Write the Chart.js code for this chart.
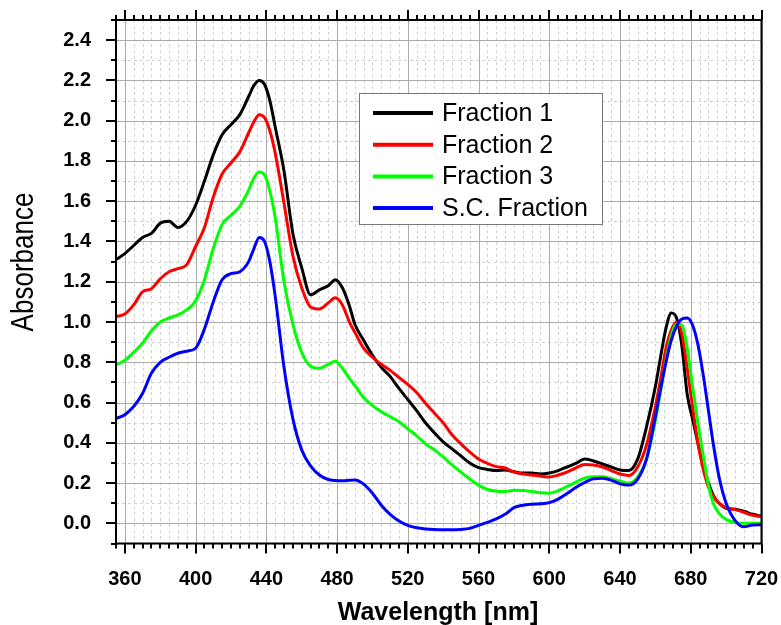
<!DOCTYPE html>
<html>
<head>
<meta charset="utf-8">
<script src="https://cdn.jsdelivr.net/npm/chart.js@4.4.0/dist/chart.umd.min.js"></script>
<style>
  html, body { margin: 0; padding: 0; background: #fff; }
  #wrap { width: 781px; height: 625px; }
</style>
</head>
<body>
<div id="wrap"><canvas id="chart" width="781" height="625"></canvas></div>
<script>
// wavelengths (nm) shared by all four spectra
const wavelengths = [
  355, 360, 365, 370, 375, 380, 385, 390, 395, 400,
  405, 410, 415, 420, 425, 430, 433, 436, 439, 442,
  445, 450, 455, 460, 465, 470, 475, 479, 483, 487,
  490, 495, 500, 505, 510, 515, 520, 525, 530, 535,
  540, 545, 550, 555, 560, 565, 570, 575, 580, 585,
  590, 595, 600, 605, 610, 615, 620, 625, 630, 635,
  640, 645, 650, 655, 660, 663, 666, 669, 672, 675,
  678, 681, 684, 687, 690, 693, 696, 700, 705, 710,
  715, 720
];

const fraction1 = [
  1.31, 1.34, 1.38, 1.42, 1.44, 1.49, 1.50, 1.47, 1.50, 1.58,
  1.70, 1.83, 1.93, 1.98, 2.03, 2.12, 2.175, 2.20, 2.18, 2.10,
  1.97, 1.75, 1.44, 1.27, 1.135, 1.16, 1.18, 1.21, 1.17, 1.08,
  0.99, 0.91, 0.835, 0.775, 0.73, 0.67, 0.615, 0.56, 0.50, 0.45,
  0.405, 0.37, 0.335, 0.30, 0.277, 0.268, 0.262, 0.265, 0.257, 0.25,
  0.25, 0.245, 0.25, 0.262, 0.28, 0.298, 0.32, 0.31, 0.295, 0.28,
  0.265, 0.262, 0.32, 0.48, 0.68, 0.83, 0.97, 1.045, 1.02, 0.88,
  0.64, 0.52, 0.40, 0.29, 0.20, 0.135, 0.10, 0.075, 0.07, 0.06,
  0.045, 0.035
];

const fraction2 = [
  1.026, 1.04, 1.085, 1.15, 1.165, 1.215, 1.25, 1.265, 1.285, 1.375,
  1.47, 1.62, 1.735, 1.79, 1.845, 1.94, 1.995, 2.03, 2.015, 1.95,
  1.84, 1.59, 1.33, 1.17, 1.075, 1.065, 1.095, 1.12, 1.085, 1.00,
  0.95, 0.87, 0.825, 0.79, 0.76, 0.725, 0.69, 0.65, 0.597, 0.548,
  0.50, 0.44, 0.395, 0.355, 0.32, 0.298, 0.282, 0.275, 0.255, 0.245,
  0.24, 0.235, 0.23, 0.24, 0.255, 0.275, 0.292, 0.29, 0.28, 0.262,
  0.245, 0.238, 0.28, 0.39, 0.58, 0.72, 0.87, 0.96, 1.00, 0.94,
  0.77, 0.58, 0.40, 0.27, 0.18, 0.13, 0.10, 0.078, 0.068, 0.055,
  0.04, 0.034
];

const fraction3 = [
  0.787, 0.81, 0.85, 0.895, 0.955, 1.00, 1.02, 1.035, 1.06, 1.105,
  1.21, 1.365, 1.485, 1.53, 1.575, 1.655, 1.715, 1.745, 1.73, 1.65,
  1.52, 1.20, 0.99, 0.85, 0.78, 0.77, 0.79, 0.805, 0.77, 0.72,
  0.685, 0.625, 0.585, 0.555, 0.53, 0.505, 0.47, 0.435, 0.395, 0.365,
  0.33, 0.29, 0.255, 0.22, 0.19, 0.168, 0.16, 0.158, 0.165, 0.163,
  0.158, 0.152, 0.15, 0.162, 0.183, 0.205, 0.225, 0.232, 0.232, 0.222,
  0.21, 0.20, 0.23, 0.32, 0.51, 0.66, 0.81, 0.935, 0.99, 0.985,
  0.87, 0.68, 0.50, 0.34, 0.19, 0.095, 0.05, 0.02, 0.005, 0.0,
  0.0, 0.0
];

const scFraction = [
  0.52, 0.54, 0.58, 0.645, 0.745, 0.80, 0.825, 0.845, 0.855, 0.87,
  0.965, 1.10, 1.21, 1.24, 1.25, 1.30, 1.365, 1.42, 1.40, 1.30,
  1.13, 0.775, 0.52, 0.365, 0.285, 0.24, 0.218, 0.213, 0.212, 0.214,
  0.215, 0.195, 0.15, 0.09, 0.045, 0.012, -0.01, -0.022, -0.028, -0.031,
  -0.032, -0.032, -0.03, -0.025, -0.01, 0.005, 0.022, 0.045, 0.078, 0.09,
  0.095, 0.097, 0.103, 0.12, 0.148, 0.178, 0.203, 0.222, 0.224, 0.215,
  0.196, 0.19, 0.22, 0.32, 0.53, 0.67, 0.80, 0.91, 0.98, 1.015,
  1.02, 0.985, 0.89, 0.74, 0.56, 0.38, 0.23, 0.10, 0.015, -0.017,
  -0.008, -0.007
];

const seriesNames = ['Fraction 1', 'Fraction 2', 'Fraction 3', 'S.C. Fraction'];
const seriesColors = ['#000000', '#ff0000', '#00ff00', '#0000ff'];
const xTickLabels = [360, 400, 440, 480, 520, 560, 600, 640, 680, 720];
const yTickLabels = [0.0, 0.2, 0.4, 0.6, 0.8, 1.0, 1.2, 1.4, 1.6, 1.8, 2.0, 2.2, 2.4];

const FONT = '"Liberation Sans", Arial, sans-serif';

function toPoints(values) {
  return wavelengths.map((w, i) => ({ x: w, y: values[i] }));
}

// keep the plot frame fixed: no extra room for overhanging tick labels
function noLabelPadding(s) {
  s.paddingLeft = 0;
  s.paddingRight = 0;
  s.paddingTop = 0;
  s.paddingBottom = 0;
}

// grid, frame, ticks, legend and axis titles drawn like the Origin plot
const originFrame = {
  id: 'originFrame',
  beforeDatasetsDraw(chart) {
    const { ctx, chartArea: a, scales: { x, y } } = chart;
    ctx.save();
    ctx.lineWidth = 1;
    // minor dashed grid
    ctx.strokeStyle = '#d2d2d2';
    ctx.setLineDash([3, 3]);
    ctx.beginPath();
    for (let w = 355; w <= 720; w += 5) {
      if ((w - 360) % 40 === 0) continue;
      const px = Math.round(x.getPixelForValue(w)) + 0.5;
      ctx.moveTo(px, a.top); ctx.lineTo(px, a.bottom);
    }
    for (let k = -1; k <= 25; k += 2) {
      const py = Math.round(y.getPixelForValue(k / 10)) + 0.5;
      ctx.moveTo(a.left, py); ctx.lineTo(a.right, py);
    }
    ctx.stroke();
    // major solid grid
    ctx.setLineDash([]);
    ctx.strokeStyle = '#ababab';
    ctx.beginPath();
    xTickLabels.forEach(w => {
      const px = Math.round(x.getPixelForValue(w)) + 0.5;
      ctx.moveTo(px, a.top); ctx.lineTo(px, a.bottom);
    });
    yTickLabels.forEach(v => {
      const py = Math.round(y.getPixelForValue(v)) + 0.5;
      ctx.moveTo(a.left, py); ctx.lineTo(a.right, py);
    });
    ctx.stroke();
    ctx.restore();
  },
  afterDatasetsDraw(chart) {
    const { ctx, chartArea: a, scales: { x, y } } = chart;
    ctx.save();
    ctx.strokeStyle = '#000';
    ctx.lineWidth = 2;
    ctx.strokeRect(a.left, a.top, a.right - a.left, a.bottom - a.top);

    // tick marks: bottom and top x, left y
    ctx.beginPath();
    for (let w = 355; w <= 720; w += 5) {
      const len = (w - 360) % 40 === 0 ? 10 : 5;
      const px = Math.round(x.getPixelForValue(w));
      ctx.moveTo(px, a.bottom); ctx.lineTo(px, a.bottom + len);
      ctx.moveTo(px, a.top); ctx.lineTo(px, a.top - len);
    }
    for (let k = -1; k <= 25; k++) {
      const len = k % 2 === 0 ? 10 : 5;
      const py = Math.round(y.getPixelForValue(k / 10));
      ctx.moveTo(a.left, py); ctx.lineTo(a.left - len, py);
    }
    ctx.stroke();

    // legend box
    const lx = 359, ly = 93, lw = 243, lh = 131;
    ctx.fillStyle = '#fff';
    ctx.fillRect(lx, ly, lw, lh);
    ctx.lineWidth = 1;
    ctx.strokeStyle = '#777';
    ctx.strokeRect(lx + 0.5, ly + 0.5, lw, lh);
    ctx.font = '25px ' + FONT;
    ctx.textBaseline = 'middle';
    ctx.textAlign = 'left';
    chart.data.datasets.forEach((ds, i) => {
      const ry = 113 + i * 31.7;
      ctx.strokeStyle = ds.borderColor;
      ctx.lineWidth = 4;
      ctx.beginPath();
      ctx.moveTo(373, ry); ctx.lineTo(433, ry);
      ctx.stroke();
      ctx.fillStyle = '#000';
      ctx.fillText(ds.label, 442, ry + 1);
    });

    // axis titles
    ctx.fillStyle = '#000';
    ctx.save();
    ctx.translate(33, 262);
    ctx.rotate(-Math.PI / 2);
    ctx.scale(1, 1.22);
    ctx.font = '26px ' + FONT;
    ctx.textAlign = 'center';
    ctx.textBaseline = 'alphabetic';
    ctx.fillText('Absorbance', 0, 0);
    ctx.restore();

    ctx.font = 'bold 25px ' + FONT;
    ctx.textAlign = 'center';
    ctx.textBaseline = 'alphabetic';
    ctx.fillText('Wavelength [nm]', 438, 620);
    ctx.restore();
  }
};

new Chart(document.getElementById('chart'), {
  type: 'line',
  data: {
    datasets: [fraction1, fraction2, fraction3, scFraction].map((vals, i) => ({
      label: seriesNames[i],
      data: toPoints(vals),
      borderColor: seriesColors[i],
      borderWidth: 3,
      pointRadius: 0,
      fill: false,
      cubicInterpolationMode: 'monotone',
      order: 4 - i
    }))
  },
  options: {
    responsive: false,
    animation: false,
    layout: { padding: { left: 0, top: 20, right: 19.5, bottom: 0 } },
    plugins: { legend: { display: false }, tooltip: { enabled: false } },
    scales: {
      x: {
        type: 'linear',
        min: 355,
        max: 720,
        grid: { display: false },
        border: { display: false },
        afterBuildTicks: s => { s.ticks = xTickLabels.map(v => ({ value: v })); },
        afterFit: s => { s.height = 81.5; noLabelPadding(s); },
        ticks: {
          autoSkip: false,
          maxRotation: 0,
          padding: 16,
          color: '#000',
          font: { family: FONT, size: 20, weight: 'bold' },
          callback: v => String(v)
        }
      },
      y: {
        type: 'linear',
        min: -0.1,
        max: 2.5,
        grid: { display: false },
        border: { display: false },
        afterBuildTicks: s => { s.ticks = yTickLabels.map(v => ({ value: v })); },
        afterFit: s => { s.width = 116; noLabelPadding(s); },
        ticks: {
          autoSkip: false,
          padding: 17,
          color: '#000',
          font: { family: FONT, size: 20, weight: 'bold' },
          callback: v => Number(v).toFixed(1)
        }
      }
    }
  },
  plugins: [originFrame]
});
</script>
</body>
</html>
